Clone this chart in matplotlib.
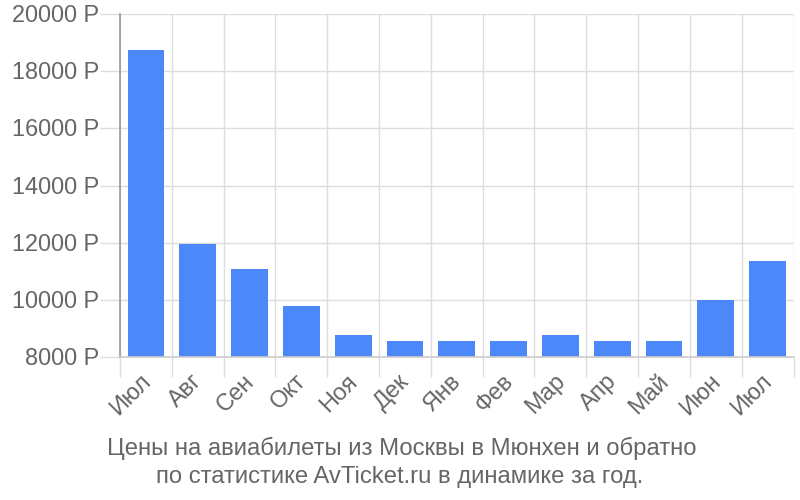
import matplotlib
matplotlib.use("Agg")
import matplotlib.pyplot as plt
from matplotlib.transforms import ScaledTranslation

months = ["Июл","Авг","Сен","Окт","Ноя","Дек","Янв","Фев","Мар","Апр","Май","Июн","Июл"]
prices = [18730,11950,11080,9780,8760,8570,8570,8570,8760,8570,8570,10000,11370]
yticks = [8000,10000,12000,14000,16000,18000,20000]
title_lines = ["Цены на авиабилеты из Москвы в Мюнхен и обратно","по статистике AvTicket.ru в динамике за год."]

FS = 17.2
TICK_FS = 16.9
GRID = "#dddddd"
TXT = "#666666"

plt.rcParams["font.family"] = "Liberation Sans"
fig = plt.figure(figsize=(8,5), dpi=100)
ax = fig.add_axes([120/800, 1-357/500, (793.5-120)/800, (357-14)/500])
x = list(range(len(months)))
ax.bar(x, prices, width=0.71, color="#4d88fb", zorder=3)
ax.set_xlim(-0.5, 12.5)
ax.set_ylim(8000, 20000)
ax.set_yticks(yticks)
ax.set_yticklabels([f"{v} Р" for v in yticks], fontsize=TICK_FS, color=TXT)
ax.set_xticks([i-0.5 for i in x]+[12.5])
ax.set_xticklabels([""]*14)
ax.grid(True, color=GRID, lw=1, zorder=0)
ax.tick_params(axis="y", length=14.4, width=1, color=GRID, pad=0.5)
ax.tick_params(axis="x", length=14.4, width=1, color=GRID, pad=0)
ax.get_xticklines()[0].set_color("#aaaaaa")
shift = ScaledTranslation(0, 1/100, fig.dpi_scale_trans)
for lab in ax.get_yticklabels():
    lab.set_transform(lab.get_transform() + shift)
for s in ("top","right"):
    ax.spines[s].set_visible(False)
ax.spines["left"].set_color("#999999")
ax.spines["left"].set_linewidth(1.2)
ax.spines["bottom"].set_color("#cccccc")
ax.spines["bottom"].set_linewidth(1.2)
ax.spines["bottom"].set_zorder(4)
for i, m in enumerate(months):
    ax.annotate(m, (i, 8000), xytext=(0.6, -15), textcoords="offset points", rotation=45,
                ha="right", va="center", rotation_mode="anchor", fontsize=TICK_FS, color=TXT)
fig.text(401.5/800, 1-448/500, title_lines[0], ha="center", va="center", fontsize=FS, color=TXT)
fig.text(399.5/800, 1-477/500, title_lines[1], ha="center", va="center", fontsize=FS, color=TXT)
fig.savefig("out.png", dpi=100)
